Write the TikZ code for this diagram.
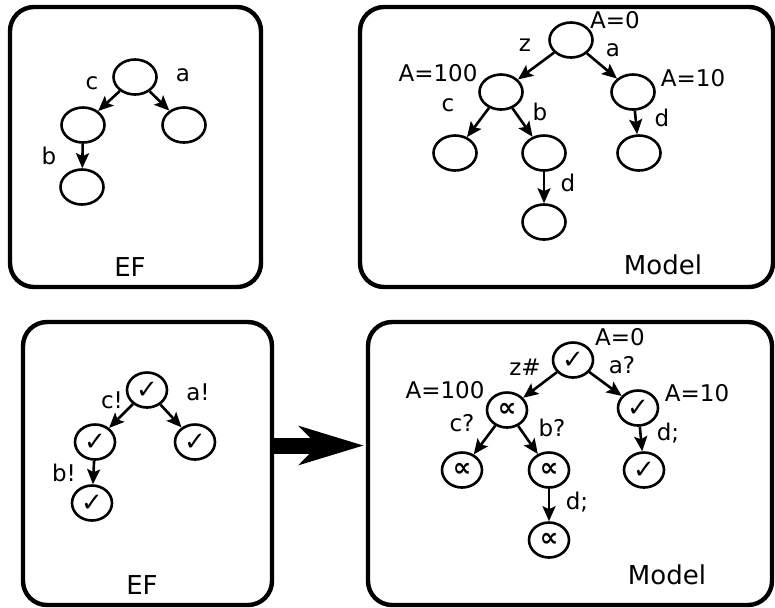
\documentclass[tikz,border=0pt]{standalone}
\usepackage{fontspec}
\setmainfont{DejaVu Sans}
\usetikzlibrary{arrows.meta,shapes.geometric}
\tikzset{
  panel/.style={rectangle, draw, rounded corners=12pt, line width=2.2pt, inner sep=0pt},
  state/.style={ellipse, draw, line width=1.3pt, minimum width=21.5pt, minimum height=17.5pt, inner sep=0pt},
  markst/.style={ellipse, draw, line width=1.3pt, minimum width=20pt, minimum height=17.5pt, inner sep=0pt,
               font=\fontsize{13}{15}\selectfont\bfseries},
  lbl/.style={inner sep=0pt, font=\fontsize{11.5}{13}\selectfont},
  ttl/.style={inner sep=0pt, font=\fontsize{13}{15}\selectfont},
  arr/.style={-{Stealth[length=7.5pt,width=6.5pt,inset=1.5pt]}, line width=1.3pt},
  bigarr/.style={-{Stealth[length=32pt,width=19pt,inset=9pt]}, line width=8pt},
}
\newcommand{\ok}{✓}
\newcommand{\pr}{∝}
\begin{document}
\begin{tikzpicture}[x=0.5pt, y=-0.5pt]
  \useasboundingbox (0,0) rectangle (775,607);
  % panels
  \node[panel, minimum width=125.5pt, minimum height=140pt] (ef1) at (135.5,147) {};
  \node[panel, minimum width=206.5pt, minimum height=140pt] (model1) at (566.5,147) {};
  \node[panel, minimum width=124.5pt, minimum height=141.5pt] (ef2) at (147.5,463.5) {};
  \node[panel, minimum width=202pt, minimum height=141.5pt] (model2) at (570,463.5) {};
  \node[ttl] at (130,267) {EF};
  \node[ttl] at (663,265) {Model};
  \node[ttl] at (142,585) {EF};
  \node[ttl] at (667,575) {Model};

  % EF, top
  \node[state] (e0) at (135,77) {};
  \node[state] (ec) at (83,125) {};
  \node[state] (ea) at (184,125) {};
  \node[state] (eb) at (82,187) {};
  \draw[arr] (e0) -- (ec); \draw[arr] (e0) -- (ea); \draw[arr] (ec) -- (eb);
  \node[lbl] at (92,83) {c};
  \node[lbl] at (183,75) {a};
  \node[lbl] at (49,156) {b};

  % Model, top
  \node[state] (m0) at (571,40) {};
  \node[state] (mz) at (501,92) {};
  \node[state] (ma) at (633,92) {};
  \node[state] (mc) at (455,153) {};
  \node[state] (mb) at (544,153) {};
  \node[state] (mad) at (639,153) {};
  \node[state] (mbd) at (544,222) {};
  \draw[arr] (m0) -- (mz); \draw[arr] (m0) -- (ma);
  \draw[arr] (mz) -- (mc); \draw[arr] (mz) -- (mb);
  \draw[arr] (ma) -- (mad); \draw[arr] (mb) -- (mbd);
  \node[lbl] at (615,20) {A=0};
  \node[lbl] at (525,45) {z};
  \node[lbl] at (613,50) {a};
  \node[lbl] at (438,73) {A=100};
  \node[lbl] at (693,78) {A=10};
  \node[lbl] at (448,105) {c};
  \node[lbl] at (540,112) {b};
  \node[lbl] at (662,118) {d};
  \node[lbl] at (568,183) {d};

  % EF, bottom
  \node[markst] (f0) at (147,390) {\ok};
  \node[markst] (fc) at (95,442) {\ok};
  \node[markst] (fa) at (195,442) {\ok};
  \node[markst] (fb) at (92,503) {\ok};
  \draw[arr] (f0) -- (fc); \draw[arr] (f0) -- (fa); \draw[arr] (fc) -- (fb);
  \node[lbl] at (112,400) {c!};
  \node[lbl] at (198,392) {a!};
  \node[lbl] at (64,473) {b!};

  % Model, bottom
  \node[markst] (t0) at (573,360) {\ok};
  \node[markst] (tz) at (507,410) {\pr};
  \node[markst] (ta) at (638,408) {\ok};
  \node[markst] (tc) at (462,470) {\pr};
  \node[markst] (tb) at (549,470) {\pr};
  \node[markst] (tad) at (644,470) {\ok};
  \node[markst] (tbd) at (549,540) {\pr};
  \draw[arr] (t0) -- (tz); \draw[arr] (t0) -- (ta);
  \draw[arr] (tz) -- (tc); \draw[arr] (tz) -- (tb);
  \draw[arr] (ta) -- (tad); \draw[arr] (tb) -- (tbd);
  \node[lbl] at (620,337) {A=0};
  \node[lbl] at (525,367) {z\#};
  \node[lbl] at (622,365) {a?};
  \node[lbl] at (445,390) {A=100};
  \node[lbl] at (697,393) {A=10};
  \node[lbl] at (462,423) {c?};
  \node[lbl] at (552,428) {b?};
  \node[lbl] at (668,433) {d;};
  \node[lbl] at (577,502) {d;};

  \draw[bigarr] ([yshift=9pt]ef2.east) -- ([yshift=9pt,xshift=-1pt]model2.west);
\end{tikzpicture}
\end{document}
